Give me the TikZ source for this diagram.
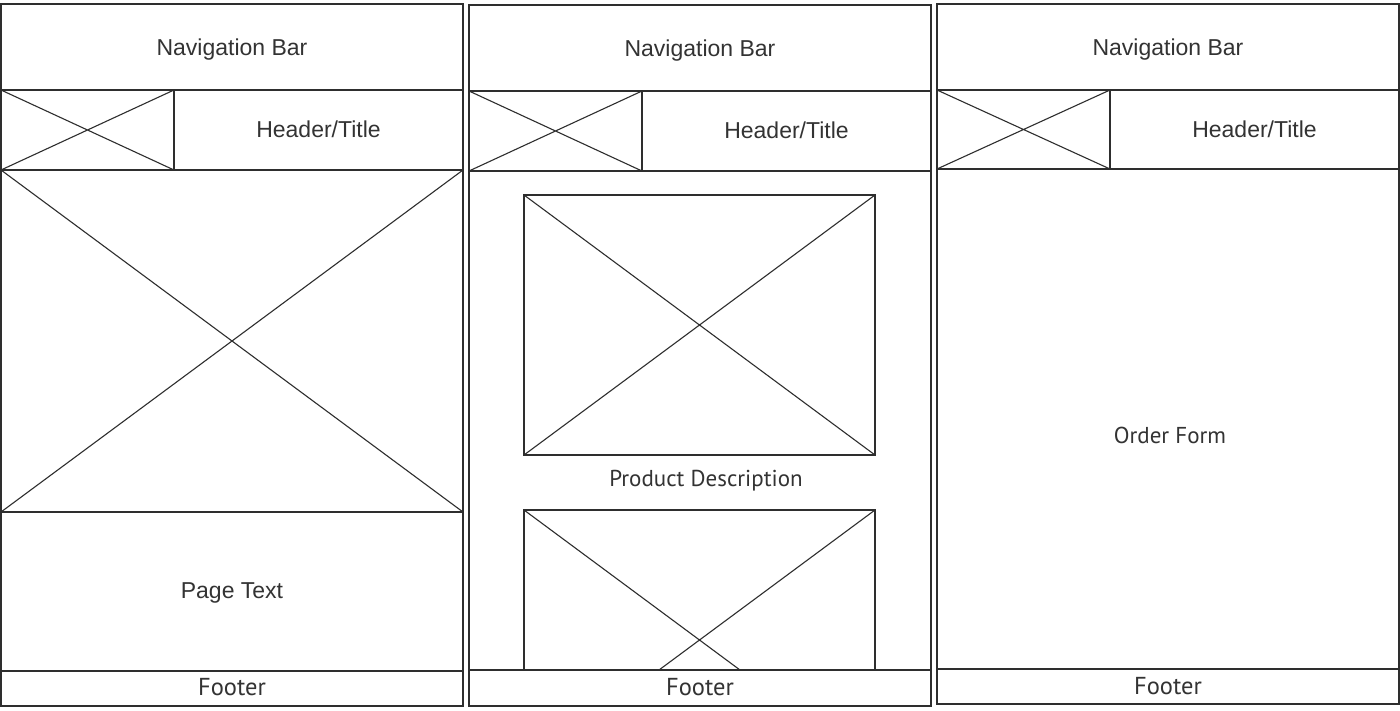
\documentclass[tikz,border=0pt]{standalone}
\usepackage{fontspec}
\setmainfont{Liberation Sans}
\newfontfamily\humfont{PT Sans}
\definecolor{ink}{HTML}{2E2E2E}
\definecolor{txt}{HTML}{333333}
\begin{document}
\begin{tikzpicture}[x=1pt,y=-1pt,
  frame/.style={draw=ink,line width=1.3pt},
  cross/.style={draw=ink,line width=1.1pt},
  lbl/.style={text=txt,font=\fontsize{23}{23}\selectfont,inner sep=0pt,anchor=base},
  hlbl/.style={text=txt,font=\humfont\fontsize{23}{23}\selectfont,inner sep=0pt,anchor=base},
  flbl/.style={text=txt,font=\humfont\fontsize{24.5}{24.5}\selectfont,inner sep=0pt,anchor=base}]
\useasboundingbox[fill=white] (0,0) rectangle (1400,710);
% ---------- Panel 1 ----------
\draw[frame] (1,4) rectangle (463,90);
\draw[frame] (1,90) rectangle (463,170);
\draw[frame] (1,90) rectangle (174,170);
\draw[cross] (1,90) -- (174,170) (1,170) -- (174,90);
\draw[frame] (1,170) rectangle (463,512);
\draw[cross] (1,170) -- (463,512) (1,512) -- (463,170);
\draw[frame] (1,512) rectangle (463,671);
\draw[frame] (1,671) rectangle (463,706);
\node[lbl] (nav1) at (232,55) {Navigation Bar};
\node[lbl] (hdr1) at (318.5,137) {Header/Title};
\node[lbl] (txt1) at (232,598) {Page Text};
\node[flbl] (ftr1) at (232,695) {Footer};
% ---------- Panel 2 ----------
\draw[frame] (469,5) rectangle (931,91);
\draw[frame] (469,91) rectangle (931,171);
\draw[frame] (469,91) rectangle (642,171);
\draw[cross] (469,91) -- (642,171) (469,171) -- (642,91);
\draw[frame] (469,171) rectangle (931,670);
\draw[frame] (524,195) rectangle (875,455);
\draw[cross] (524,195) -- (875,455) (524,455) -- (875,195);
\begin{scope}
  \clip (500,500) rectangle (900,670);
  \draw[frame] (524,510) rectangle (875,770);
  \draw[cross] (524,510) -- (875,770) (524,770) -- (875,510);
\end{scope}
\draw[frame] (469,670) rectangle (931,706);
\node[lbl] (nav2) at (700,56) {Navigation Bar};
\node[lbl] (hdr2) at (786.5,138) {Header/Title};
\node[hlbl] (pd) at (706,486) {Product Description};
\node[flbl] (ftr2) at (700,695) {Footer};
% ---------- Panel 3 ----------
\draw[frame] (937,4) rectangle (1399,90);
\draw[frame] (937,90) rectangle (1399,169);
\draw[frame] (937,90) rectangle (1110,169);
\draw[cross] (937,90) -- (1110,169) (937,169) -- (1110,90);
\draw[frame] (937,169) rectangle (1399,669);
\draw[frame] (937,669) rectangle (1399,704);
\node[lbl] (nav3) at (1168,55) {Navigation Bar};
\node[lbl] (hdr3) at (1254.5,137) {Header/Title};
\node[hlbl] (of) at (1170,443) {Order Form};
\node[flbl] (ftr3) at (1168,694) {Footer};
\end{tikzpicture}
\end{document}
